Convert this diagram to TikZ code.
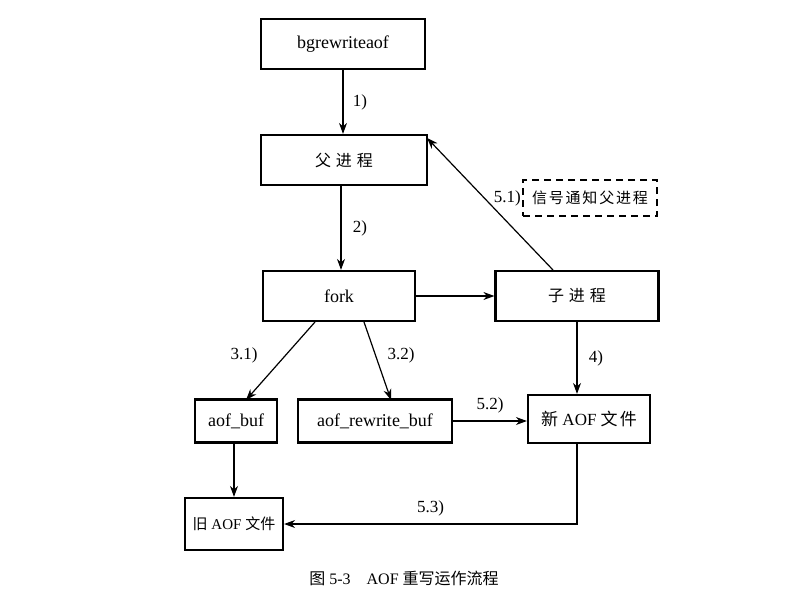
\documentclass[tikz,border=0pt]{standalone}
\usepackage{fontspec}
\setmainfont{Liberation Serif}
\newfontfamily\cjk{Noto Sans CJK SC}
\newfontfamily\cjkw{Noto Sans CJK SC}[LetterSpace=30]
\newfontfamily\cjkm{Noto Sans CJK SC}[LetterSpace=12]
\usetikzlibrary{arrows.meta}
\begin{document}
\begin{tikzpicture}[x=1pt,y=-1pt,
  box/.style={draw=black,line width=2.2pt,minimum height=50pt,inner sep=2pt,font=\fontsize{18}{21}\selectfont},
  cbox/.style={box,font=\fontsize{16}{19}\selectfont\cjkw},
  dbox/.style={draw=black,line width=2pt,dash pattern=on 7pt off 5pt,minimum height=36pt,minimum width=134pt,inner sep=1pt,font=\fontsize{15}{18}\selectfont\cjkm},
  arr/.style={line width=1.2pt,-{Stealth[length=11pt,width=8pt]}},
  lab/.style={font=\fontsize{17}{20}\selectfont}
]
\useasboundingbox (0,0) rectangle (808,598);
\node[box,minimum width=164pt] (bg) at (343,44) {bgrewriteaof};
\node[cbox,minimum width=166pt] (fa) at (344,160) {父进程};
\node[box,minimum width=152pt] (fork) at (339,296) {fork};
\node[cbox,minimum width=163pt] (zi) at (577,296) {子进程};
\node[dbox] (sig) at (590,198) {信号通知父进程};
\node[box,minimum width=82pt,minimum height=43pt] (ab) at (236,421) {aof\_buf};
\node[box,minimum width=154pt,minimum height=43pt] (arb) at (375,421) {aof\_rewrite\_buf};
\node[box,minimum width=122pt,minimum height=48pt,font=\fontsize{17}{20}\selectfont] (new) at (589,419) {{\cjk 新}\ AOF\ {\cjkm 文件}};
\node[box,minimum width=98pt,minimum height=52pt,inner sep=1pt,font=\fontsize{15}{18}\selectfont] (old) at (234,524) {{\cjk 旧}\ AOF\ {\cjk 文件}};

\draw[arr] (bg.south -| 343,0) -- (fa.north -| 343,0) node[lab,midway,right=6pt] {1)};
\draw[arr] (fa.south -| 341,0) -- (fork.north -| 341,0) node[lab,midway,right=8pt] {2)};
\draw[arr] (fork) -- (zi);
\coordinate (zt) at (553,270);
\coordinate (fr) at (427,138);
\draw[arr] (zt) -- (fr);
\node[lab,anchor=east,inner sep=1pt] (l51) at (sig.west) {5.1)};
\coordinate (f1) at (315,322);
\coordinate (a1) at (246,400);
\draw[arr] (f1) -- (a1);
\node[lab] (l31) at (244,355) {3.1)};
\coordinate (f2) at (364,322);
\coordinate (a2) at (391,400);
\draw[arr] (f2) -- (a2);
\node[lab] (l32) at (401,355) {3.2)};
\draw[arr] (zi.south) -- (new.north -| zi.south) node[lab,midway,right=8pt] {4)};
\draw[arr] (arb.east) -- (arb.east -| new.west) node[lab,midway,above=4pt] {5.2)};
\draw[arr] (ab.south -| old.north) -- (old.north);
\draw[arr] (new.south -| zi.south) |- (old.east) node[lab,pos=0.75,above=4pt] {5.3)};
\node[font=\fontsize{16}{19}\selectfont] (cap) at (404,578) {{\cjk 图}\ 5-3\quad AOF\ {\cjk 重写运作流程}};
\end{tikzpicture}
\end{document}
